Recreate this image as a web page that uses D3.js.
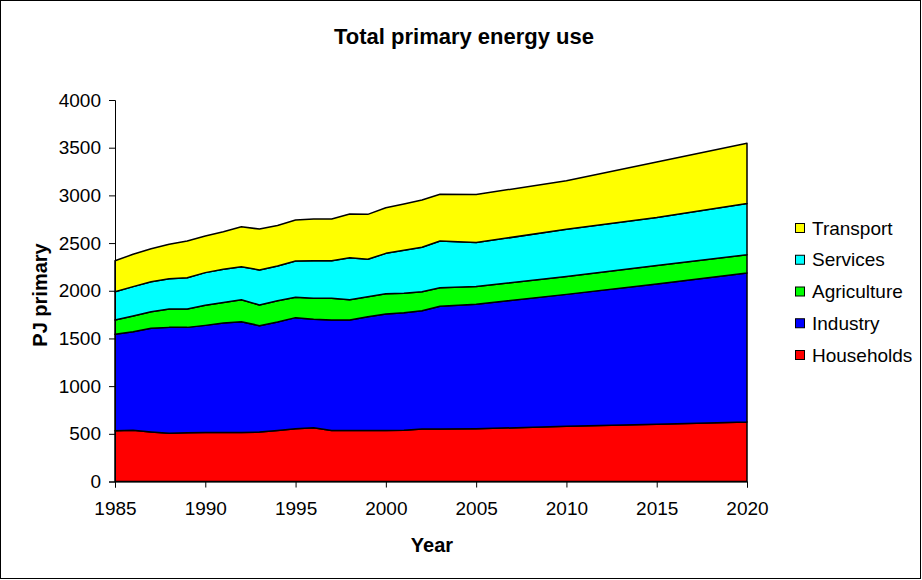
<!DOCTYPE html>
<html>
<head>
<meta charset="utf-8">
<script src="https://cdn.jsdelivr.net/npm/d3@7"></script>
<style>
  html, body { margin: 0; padding: 0; background: #fff; }
  svg { display: block; font-family: "Liberation Sans", Arial, sans-serif; }
</style>
</head>
<body>
<svg id="chart" width="922" height="580"></svg>
<script>
// Primary energy use by sector, PJ
const years       = [1985,1986,1987,1988,1989,1990,1991,1992,1993,1994,1995,1996,1997,1998,1999,2000,2001,2002,2003,2005,2010,2015,2020];
const households  = [533,538,520,505,512,515,515,515,518,535,552,564,535,535,535,535,537,550,550,553,578,600,624];
const industry    = [1010,1033,1086,1111,1104,1122,1147,1161,1116,1137,1166,1136,1158,1158,1193,1221,1233,1241,1287,1305,1384,1472,1561];
const agriculture = [150,164,174,192,192,210,216,230,217,224,213,221,228,213,210,213,203,199,195,187,188,193,192];
const services    = [297,308,315,319,329,343,347,346,367,364,381,394,394,441,392,423,451,466,490,460,495,503,538];
const transport   = [325,339,346,360,385,384,394,418,429,425,429,437,437,458,471,479,486,496,489,504,509,582,631];

const seriesNames = ["Households","Industry","Agriculture","Services","Transport"];
const seriesColors = ["#ff0000","#0000ff","#00ff00","#00ffff","#ffff00"];
const yTicks = [0,500,1000,1500,2000,2500,3000,3500,4000];
const xTicks = [1985,1990,1995,2000,2005,2010,2015,2020];

const rows = years.map((y, i) => ({
  year: y,
  Households: households[i],
  Industry: industry[i],
  Agriculture: agriculture[i],
  Services: services[i],
  Transport: transport[i]
}));

const svg = d3.select("#chart");

// outer frame
svg.append("rect")
  .attr("x", 0.5).attr("y", 0.5)
  .attr("width", 920).attr("height", 578)
  .attr("fill", "#fff").attr("stroke", "#000").attr("stroke-width", 1);

const x = d3.scaleLinear().domain([1985, 2020]).range([115, 747]);
const y = d3.scaleLinear().domain([0, 4000]).range([481.5, 100]);

const stack = d3.stack().keys(seriesNames);
const layers = stack(rows);

const area = d3.area()
  .x(d => x(d.data.year))
  .y0(d => y(d[0]))
  .y1(d => y(d[1]));

svg.append("g").selectAll("path")
  .data(layers)
  .join("path")
  .attr("d", area)
  .attr("fill", (d, i) => seriesColors[i])
  .attr("stroke", "#000")
  .attr("stroke-width", 1.5)
  .attr("stroke-linejoin", "round");

// axes
const yAxis = d3.axisLeft(y).tickValues(yTicks).tickSize(6).tickPadding(8).tickFormat(d3.format("d"));
const gy = svg.append("g").attr("transform", "translate(115,0)").call(yAxis);
const xAxis = d3.axisBottom(x).tickValues(xTicks).tickSize(6).tickPadding(14).tickFormat(d3.format("d"));
const gx = svg.append("g").attr("transform", "translate(0,481.5)").call(xAxis);

[gy, gx].forEach(g => {
  g.select(".domain").attr("stroke", "#000").attr("stroke-width", 1);
  g.selectAll(".tick line").attr("stroke", "#000");
  g.selectAll(".tick text")
    .attr("fill", "#000")
    .style("font-size", "19px")
    .style("font-family", "'Liberation Sans', Arial, sans-serif");
});

// title
svg.append("text")
  .attr("x", 464).attr("y", 44)
  .attr("text-anchor", "middle")
  .style("font-size", "22px").style("font-weight", "bold")
  .text("Total primary energy use");

// axis titles
svg.append("text")
  .attr("x", 432).attr("y", 552)
  .attr("text-anchor", "middle")
  .style("font-size", "20px").style("font-weight", "bold")
  .text("Year");

svg.append("text")
  .attr("transform", "translate(47,295) rotate(-90)")
  .attr("text-anchor", "middle")
  .style("font-size", "20px").style("font-weight", "bold")
  .text("PJ primary");

// legend, top entry is the top layer
const legendOrder = seriesNames.map((n, i) => ({ name: n, color: seriesColors[i] })).reverse();
const lg = svg.append("g").selectAll("g")
  .data(legendOrder)
  .join("g")
  .attr("transform", (d, i) => `translate(795,${228 + i * 31.75})`);
lg.append("rect")
  .attr("x", 0.5).attr("y", -4.5)
  .attr("width", 9).attr("height", 9)
  .attr("fill", d => d.color)
  .attr("stroke", "#000").attr("stroke-width", 1);
lg.append("text")
  .attr("x", 17).attr("y", 6.5)
  .style("font-size", "19px")
  .text(d => d.name);
</script>
</body>
</html>
